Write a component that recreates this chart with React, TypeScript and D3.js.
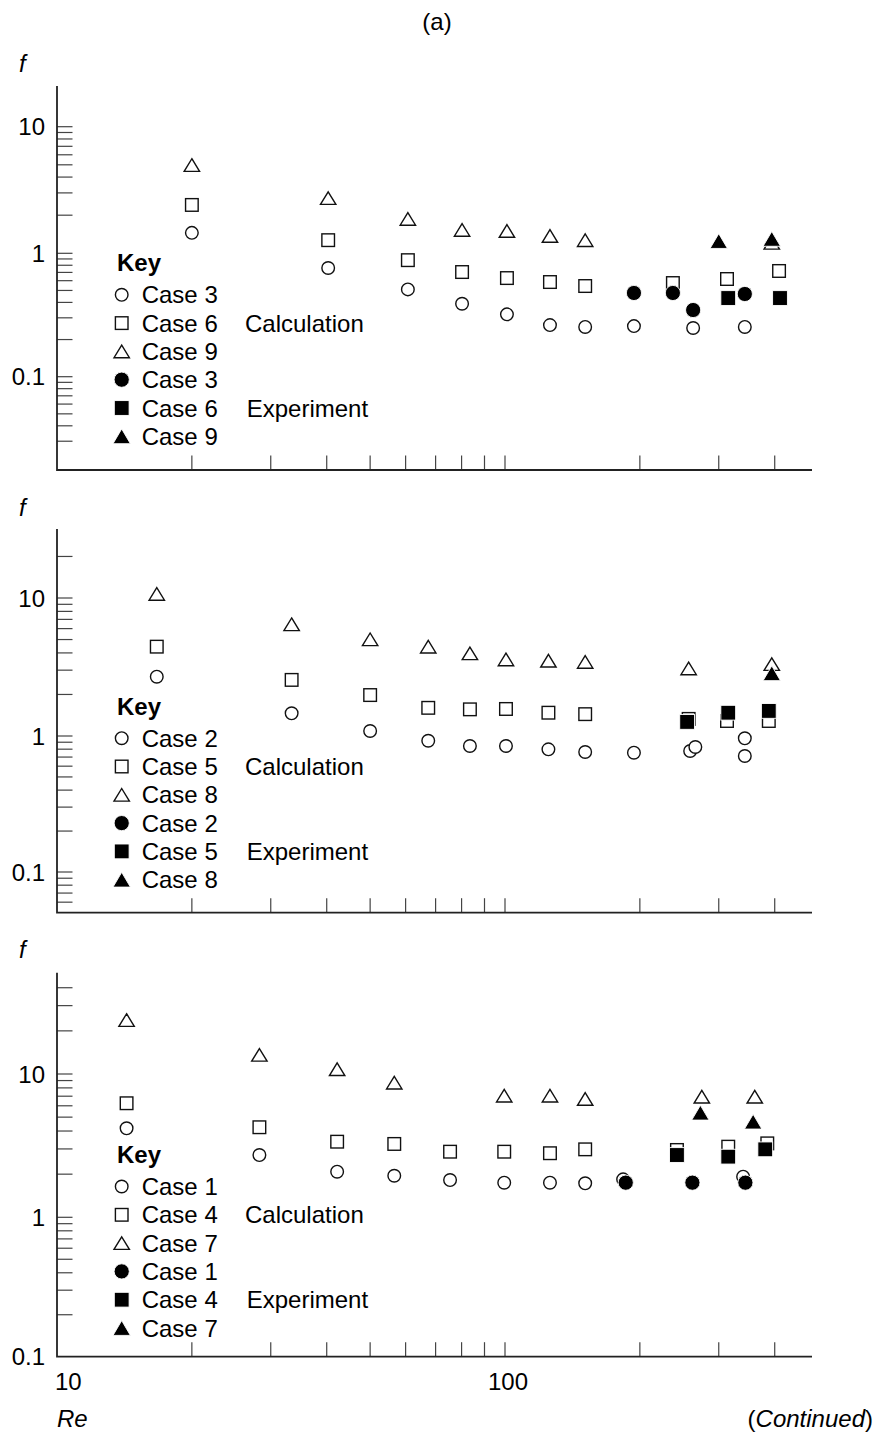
import React from "react";
import * as d3 from "d3";

type Pt = [number, number]; // [Re, f]

// ---------- Panel 1 : Cases 3, 6, 9 ----------
const p1Case3Calc: Pt[] = [[20.0, 1.45], [40.3, 0.76], [60.7, 0.51], [80.2, 0.39], [101, 0.32], [126, 0.262], [151, 0.253], [194, 0.257], [263, 0.248], [343, 0.253]];
const p1Case6Calc: Pt[] = [[20.0, 2.41], [40.3, 1.27], [60.7, 0.88], [80.2, 0.705], [101, 0.63], [126, 0.585], [151, 0.543], [237, 0.574], [313, 0.619], [409, 0.719]];
const p1Case9Calc: Pt[] = [[20.0, 4.98], [40.3, 2.73], [60.7, 1.87], [80.2, 1.53], [101, 1.5], [126, 1.37], [151, 1.27], [394, 1.21]];
const p1Case3Exp: Pt[] = [[194, 0.477], [237, 0.477], [263, 0.347], [343, 0.468]];
const p1Case6Exp: Pt[] = [[315, 0.434], [411, 0.434]];
const p1Case9Exp: Pt[] = [[300, 1.25], [394, 1.3]];

// ---------- Panel 2 : Cases 2, 5, 8 ----------
const p2Case2Calc: Pt[] = [[16.7, 2.69], [33.4, 1.46], [50, 1.087], [67.4, 0.923], [83.5, 0.844], [100.5, 0.844], [125, 0.798], [151, 0.763], [194, 0.754], [259, 0.776], [266, 0.83], [343, 0.962], [343, 0.713]];
const p2Case5Calc: Pt[] = [[16.7, 4.44], [33.4, 2.55], [50, 1.98], [67.4, 1.6], [83.5, 1.56], [100.5, 1.57], [125, 1.475], [151, 1.44], [257, 1.33], [313, 1.285], [388, 1.285]];
const p2Case8Calc: Pt[] = [[16.7, 10.7], [33.4, 6.45], [50, 5.02], [67.4, 4.44], [83.5, 3.97], [100.5, 3.59], [125, 3.51], [151, 3.44], [257, 3.09], [394, 3.32]];
const p2Case2Exp: Pt[] = [];
const p2Case5Exp: Pt[] = [[255, 1.265], [315, 1.475], [388, 1.52]];
const p2Case8Exp: Pt[] = [[394, 2.85]];

// ---------- Panel 3 : Cases 1, 4, 7 ----------
const p3Case1Calc: Pt[] = [[14.3, 4.18], [28.3, 2.72], [42.2, 2.08], [56.6, 1.95], [75.4, 1.82], [99.6, 1.744], [126, 1.744], [151, 1.727], [183.5, 1.84], [340, 1.92]];
const p3Case4Calc: Pt[] = [[14.3, 6.25], [28.3, 4.25], [42.2, 3.37], [56.6, 3.25], [75.4, 2.87], [99.6, 2.87], [126, 2.8], [151, 2.98], [242, 2.95], [315, 3.11], [385, 3.28]];
const p3Case7Calc: Pt[] = [[14.3, 23.8], [28.3, 13.6], [42.2, 10.8], [56.6, 8.7], [99.6, 7.06], [126, 7.06], [151, 6.69], [275, 6.94], [361, 6.94]];
const p3Case1Exp: Pt[] = [[186, 1.744], [262, 1.744], [344, 1.744]];
const p3Case4Exp: Pt[] = [[242, 2.72], [315, 2.65], [381, 2.98]];
const p3Case7Exp: Pt[] = [[273, 5.37], [358, 4.65]];

// ---------- Labels & ticks ----------
const panel1Cases = ["Case 3", "Case 6", "Case 9"];
const panel2Cases = ["Case 2", "Case 5", "Case 8"];
const panel3Cases = ["Case 1", "Case 4", "Case 7"];
const yTickLabels = [10, 1, 0.1];
const yMinorMultipliers = [2, 3, 4, 5, 6, 7, 8, 9];
const yDecades = [0.01, 0.1, 1, 10];
const xTicks = [20, 30, 40, 50, 60, 70, 80, 90, 100, 200, 300, 400];
const xTickLabels = [10, 100];

// ---------- Layout ----------
const FONT = "'Liberation Sans', Arial, Helvetica, sans-serif";
const FS = 24;
const AXIS_X = 57;
const X_END = 812;
const xScale = d3.scaleLog().domain([10, 100]).range([AXIS_X, 505]);

type Shape = "circle" | "square" | "triangle";
const shapes: Shape[] = ["circle", "square", "triangle"];

const panels = [
  { cases: panel1Cases, calc: [p1Case3Calc, p1Case6Calc, p1Case9Calc], exp: [p1Case3Exp, p1Case6Exp, p1Case9Exp], yRange: [376.7, 253.3, 126.7], top: 86, bottom: 470, fBase: 72, keyBase: 270.7, row0: 303.3 },
  { cases: panel2Cases, calc: [p2Case2Calc, p2Case5Calc, p2Case8Calc], exp: [p2Case2Exp, p2Case5Exp, p2Case8Exp], yRange: [872, 736, 598], top: 529, bottom: 912.7, fBase: 516, keyBase: 715, row0: 746.7 },
  { cases: panel3Cases, calc: [p3Case1Calc, p3Case4Calc, p3Case7Calc], exp: [p3Case1Exp, p3Case4Exp, p3Case7Exp], yRange: [1356.7, 1217.3, 1074], top: 972.7, bottom: 1356.7, fBase: 958, keyBase: 1163.3, row0: 1195 },
];

function Marker({ shape, filled, cx, cy }: { shape: Shape; filled: boolean; cx: number; cy: number }) {
  const fill = filled ? "#000" : "#fff";
  const stroke = filled ? "#fff" : "#111";
  const sw = filled ? 0.9 : 1.4;
  if (shape === "circle") {
    return <circle cx={cx} cy={cy} r={filled ? 7.6 : 6.3} fill={fill} stroke={stroke} strokeWidth={sw} />;
  }
  if (shape === "square") {
    const s = filled ? 14.8 : 12.6;
    return <rect x={cx - s / 2} y={cy - s / 2} width={s} height={s} fill={fill} stroke={stroke} strokeWidth={sw} />;
  }
  const w = filled ? 17.4 : 15.4;
  const h = filled ? 14.8 : 12.6;
  const pts = `${cx},${cy - h / 2} ${cx + w / 2},${cy + h / 2} ${cx - w / 2},${cy + h / 2}`;
  return <polygon points={pts} fill={fill} stroke={stroke} strokeWidth={sw} strokeLinejoin="miter" />;
}

function Panel({ p, showXLabels }: { p: (typeof panels)[number]; showXLabels: boolean }) {
  const y = d3.scaleLog().domain([0.1, 1, 10]).range(p.yRange);
  const minor: number[] = [];
  yDecades.forEach((d) => yMinorMultipliers.forEach((m) => minor.push(+(d * m).toPrecision(3))));
  const allY = [...minor, ...yTickLabels].filter((v) => y(v) > p.top + 5 && y(v) < p.bottom - 8);
  const rowStep = 28.3;
  return (
    <g>
      {/* axis label f */}
      <text x={19} y={p.fBase} fontSize={FS} fontStyle="italic" fontFamily={FONT}>f</text>
      {/* y ticks */}
      {allY.map((v, i) => (
        <line key={"yt" + i} x1={AXIS_X} x2={AXIS_X + 15.5} y1={y(v)} y2={y(v)} stroke="#444" strokeWidth={1.2} />
      ))}
      {yTickLabels.map((v) => (
        <text key={"yl" + v} x={45} y={y(v) + 8.5} fontSize={FS} textAnchor="end" fontFamily={FONT}>{String(v)}</text>
      ))}
      {/* x ticks */}
      {xTicks.map((v) => (
        <line key={"xt" + v} x1={xScale(v)} x2={xScale(v)} y1={p.bottom} y2={p.bottom - 14.5} stroke="#444" strokeWidth={1.2} />
      ))}
      {showXLabels && xTickLabels.map((v, i) => (
        <text key={"xl" + v} x={i === 0 ? xScale(v) - 2 : xScale(v) + 3} y={1390} fontSize={FS} textAnchor={i === 0 ? "start" : "middle"} fontFamily={FONT}>{String(v)}</text>
      ))}
      {/* axes */}
      <path d={`M${AXIS_X},${p.top}V${p.bottom}H${X_END}`} fill="none" stroke="#222" strokeWidth={1.8} />
      {/* calculation (open) */}
      {p.calc.map((s, si) => s.map((d, i) => (
        <Marker key={`c${si}-${i}`} shape={shapes[si]} filled={false} cx={xScale(d[0])} cy={y(d[1])} />
      )))}
      {/* experiment (filled) */}
      {p.exp.map((s, si) => s.map((d, i) => (
        <Marker key={`e${si}-${i}`} shape={shapes[si]} filled={true} cx={xScale(d[0])} cy={y(d[1])} />
      )))}
      {/* legend */}
      <text x={117} y={p.keyBase} fontSize={FS} fontWeight="bold" fontFamily={FONT}>Key</text>
      {[0, 1, 2, 3, 4, 5].map((r) => {
        const base = p.row0 + r * rowStep;
        const filled = r >= 3;
        return (
          <g key={"lg" + r}>
            <Marker shape={shapes[r % 3]} filled={filled} cx={121.7} cy={base - 8.5} />
            <text x={141.7} y={base} fontSize={FS} fontFamily={FONT}>{p.cases[r % 3]}</text>
          </g>
        );
      })}
      <text x={245} y={p.row0 + rowStep} fontSize={FS} fontFamily={FONT}>Calculation</text>
      <text x={246.7} y={p.row0 + 4 * rowStep} fontSize={FS} fontFamily={FONT}>Experiment</text>
    </g>
  );
}

export default function App() {
  return (
    <svg
      width={875}
      height={1433}
      viewBox="0 0 875 1433"
      style={{ position: "absolute", left: 0, top: 0, display: "block", background: "#fff" }}
    >
      <rect x={0} y={0} width={875} height={1433} fill="#fff" />
      <text x={437} y={30} fontSize={FS} textAnchor="middle" fontFamily={FONT}>(a)</text>
      {panels.map((p, i) => (
        <Panel key={i} p={p} showXLabels={i === panels.length - 1} />
      ))}
      <text x={57} y={1427} fontSize={FS} fontStyle="italic" fontFamily={FONT}>Re</text>
      <text x={873} y={1427} fontSize={FS} textAnchor="end" fontFamily={FONT}>
        (<tspan fontStyle="italic">Continued</tspan>)
      </text>
    </svg>
  );
}
